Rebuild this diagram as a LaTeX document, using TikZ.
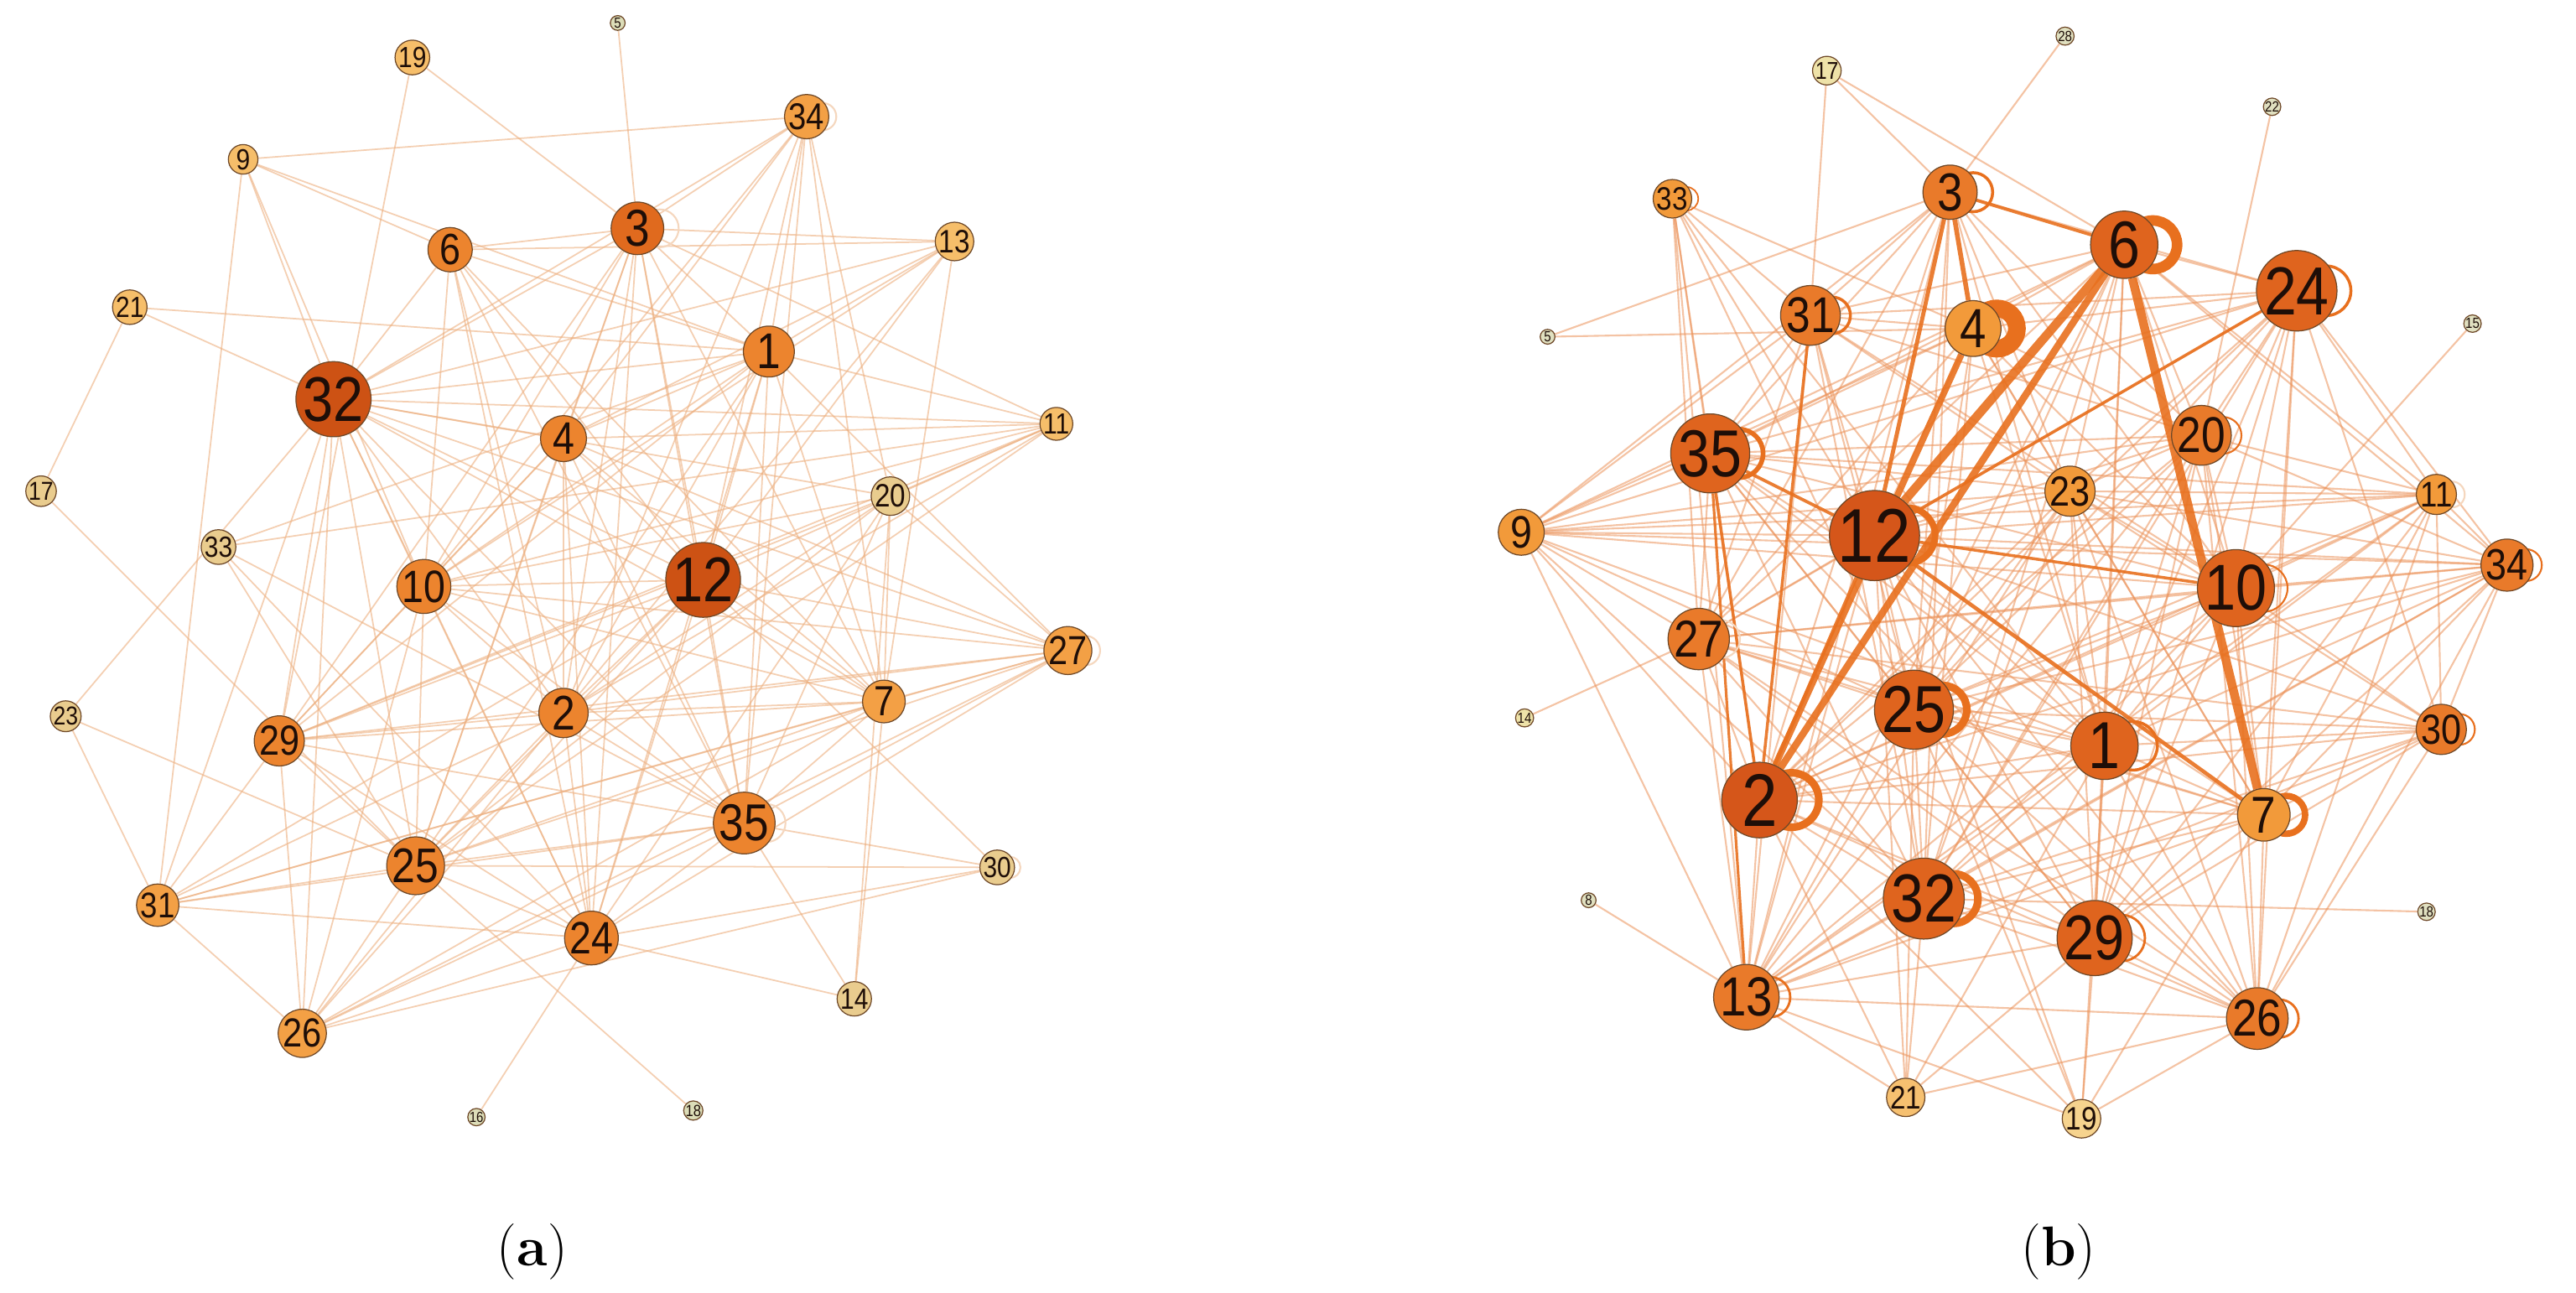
\documentclass[tikz,border=0pt]{standalone}
\usepackage{fontspec}
\newfontfamily\lab[FakeStretch=0.86]{Liberation Sans}
\pgfdeclarelayer{bg}
\pgfdeclarelayer{edges}
\pgfdeclarelayer{loops}
\pgfsetlayers{bg,edges,loops,main}
\definecolor{adark}{HTML}{CD5214}
\definecolor{amidd}{HTML}{E06A1E}
\definecolor{amid}{HTML}{EC842E}
\definecolor{alight}{HTML}{F3A045}
\definecolor{apale}{HTML}{F6BE6A}
\definecolor{atan}{HTML}{E9CC8E}
\definecolor{atiny}{HTML}{DCDDB8}
\definecolor{bvdark}{HTML}{D5561A}
\definecolor{bdark}{HTML}{DF641E}
\definecolor{bmid}{HTML}{E97A2A}
\definecolor{blight}{HTML}{F29A3A}
\definecolor{bpale}{HTML}{F6C070}
\definecolor{bpaler}{HTML}{F6D38E}
\definecolor{btan}{HTML}{EEE2A8}
\definecolor{btiny}{HTML}{E0E0C0}
\definecolor{edgea}{HTML}{EDB080}
\definecolor{edgeb}{HTML}{EC935A}
\definecolor{loopc}{HTML}{E8701E}
\def\U{0.019592}
\tikzset{
  gnode/.style={circle, draw={rgb,255:red,110;green,72;blue,40}, line width=0.35pt, inner sep=0pt, text={rgb,255:red,30;green,14;blue,8}},
  ea/.style={draw=edgea, line width=0.5pt, draw opacity=0.6},
  eb/.style={draw=edgeb, line width=0.6pt, draw opacity=0.55},
  ebt/.style={draw=loopc, draw opacity=0.9},
  loopst/.style={draw=loopc},
  faintloop/.style={draw={rgb,255:red,245;green,215;blue,190}},
  captext/.style={font=\fontsize{19}{22}\selectfont}
}
\newcommand\nd[6]{%
  \pgfmathsetmacro\fs{1.1*#4}%
  \node[gnode, fill=#5, minimum size={2*#4*\U cm}, font=\lab\fontsize{\fs}{\fs}\selectfont] (#1) at (#2,#3) {#6};}
\newcommand\lp[4][loopst]{%
  \begin{pgfonlayer}{loops}
  \draw[#1, line width=#4] ([xshift={0.85*#3*\U cm}]#2.center) circle [radius={0.72*#3*\U cm}];
  \end{pgfonlayer}}
\begin{document}
\begin{tikzpicture}[x=0.019592cm, y=-0.019592cm]
\begin{pgfonlayer}{bg}
\fill[white] (0,0) rectangle (1568,787);
\end{pgfonlayer}
\useasboundingbox (0,0) rectangle (1568,787);
% ---------------- (a) ----------------
\nd{a5}{376}{14}{4.5}{atiny}{\tiny 5}
\nd{a19}{251}{35}{9}{apale}{19}
\nd{a34}{491}{71}{11.5}{alight}{34}
\nd{a9}{148}{97}{9}{apale}{9}
\nd{a3}{388}{139}{16}{amidd}{3}
\nd{a6}{274}{152}{13.5}{amid}{6}
\nd{a13}{581}{147}{10}{apale}{13}
\nd{a21}{79}{187}{9}{apale}{21}
\nd{a1}{468}{214}{15.5}{amid}{1}
\nd{a32}{203}{243}{19.5}{adark}{32}
\nd{a4}{343}{267}{14}{amid}{4}
\nd{a11}{643}{258}{9}{apale}{11}
\nd{a17}{25}{299}{8}{atan}{17}
\nd{a20}{542}{302}{10}{atan}{20}
\nd{a33}{133}{333}{9}{atan}{33}
\nd{a10}{258}{357}{14}{amid}{10}
\nd{a12}{428}{353}{19.5}{adark}{12}
\nd{a27}{650}{396}{12.5}{alight}{27}
\nd{a7}{538}{427}{13}{alight}{7}
\nd{a2}{343}{434}{15}{amid}{2}
\nd{a23}{40}{436}{8}{atan}{23}
\nd{a29}{170}{451}{13}{amid}{29}
\nd{a35}{453}{501}{16}{amid}{35}
\nd{a30}{607}{528}{9}{atan}{30}
\nd{a25}{253}{527}{15}{amid}{25}
\nd{a31}{96}{551}{11}{alight}{31}
\nd{a24}{360}{571}{14}{amid}{24}
\nd{a14}{520}{608}{9}{atan}{14}
\nd{a26}{184}{629}{12.5}{alight}{26}
\nd{a16}{290}{680}{4.5}{atiny}{16}
\nd{a18}{422}{676}{5}{atiny}{18}
\begin{pgfonlayer}{edges}
\foreach \p/\q in {5/3,19/3,19/29,9/34,9/6,9/1,9/32,9/31,9/10,21/32,21/1,21/17,17/25,23/31,23/25,23/32,
 34/3,34/32,34/1,34/4,34/12,34/20,34/7,34/35,34/2,34/10,
 3/6,3/13,3/32,3/1,3/4,3/12,3/2,3/10,3/29,3/35,3/25,3/11,3/7,3/24,
 6/1,6/12,6/35,6/10,6/2,6/24,6/13,6/32,6/7,
 13/32,13/4,13/10,13/2,13/12,13/1,13/7,
 1/32,1/4,1/27,1/12,1/2,1/25,1/10,1/29,1/35,1/11,1/7,1/24,
 32/11,32/4,32/10,32/12,32/2,32/29,32/25,32/26,32/31,32/24,32/35,32/7,32/20,32/27,
 4/11,4/12,4/2,4/24,4/29,4/25,4/10,4/7,4/35,4/27,
 11/20,11/33,11/12,11/29,11/2,11/10,11/25,
 20/27,20/24,20/35,20/10,20/2,20/25,20/7,20/14,20/29,
 33/1,33/25,33/35,33/24,
 10/12,10/27,10/25,10/29,10/26,10/24,10/35,10/7,10/2,
 12/27,12/7,12/2,12/35,12/25,12/29,12/26,12/31,12/24,12/30,
 27/7,27/2,27/35,27/25,27/29,27/26,27/24,27/31,
 7/2,7/29,7/35,7/14,7/25,7/31,7/26,
 2/29,2/35,2/25,2/24,2/26,2/31,
 29/35,29/25,29/26,29/31,29/24,
 35/25,35/31,35/24,35/26,35/30,35/14,
 25/31,25/24,25/26,25/18,25/30,
 31/24,31/26,24/26,24/14,24/16,24/30,26/30}
 \draw[ea] (a\p) -- (a\q);
\end{pgfonlayer}
\lp[faintloop]{a34}{11.5}{0.6pt}
\lp[faintloop]{a27}{12.5}{0.6pt}
\lp[faintloop]{a35}{16}{0.6pt}
\lp[faintloop]{a30}{9}{0.6pt}
\lp[faintloop]{a3}{16}{0.6pt}
% ---------------- (b) ----------------
\nd{b17}{1112}{43}{7.5}{btan}{17}
\nd{b28}{1257}{22}{5.5}{btiny}{\tiny 28}
\nd{b22}{1383}{65}{5}{btiny}{\tiny 22}
\nd{b33}{1018}{121}{10}{blight}{33}
\nd{b3}{1187}{117}{16.5}{bmid}{3}
\nd{b6}{1293}{149}{20.5}{bdark}{6}
\nd{b24}{1398}{177}{21}{bdark}{24}
\nd{b5}{942}{205}{4.5}{btiny}{\tiny 5}
\nd{b31}{1102}{192}{15.5}{bmid}{31}
\nd{b4}{1201}{200}{17}{blight}{4}
\nd{b15}{1505}{197}{5}{btiny}{\tiny 15}
\nd{b35}{1041}{276}{20.5}{bdark}{35}
\nd{b20}{1340}{265}{15.5}{bmid}{20}
\nd{b23}{1260}{299}{13}{blight}{23}
\nd{b11}{1483}{301}{11}{blight}{11}
\nd{b9}{926}{324}{14}{blight}{9}
\nd{b12}{1141}{326}{23.5}{bvdark}{12}
\nd{b34}{1526}{344}{13.5}{bmid}{34}
\nd{b10}{1361}{358}{20}{bdark}{10}
\nd{b27}{1034}{389}{16}{bmid}{27}
\nd{b14}{928}{437}{5.5}{btan}{\tiny 14}
\nd{b25}{1165}{432}{20.5}{bdark}{25}
\nd{b1}{1281}{454}{20.5}{bdark}{1}
\nd{b30}{1486}{444}{13}{bmid}{30}
\nd{b2}{1071}{487}{23}{bvdark}{2}
\nd{b7}{1378}{496}{16}{blight}{7}
\nd{b32}{1171}{547}{21}{bdark}{32}
\nd{b29}{1275}{571}{19.5}{bdark}{29}
\nd{b8}{967}{548}{4.5}{btiny}{\tiny 8}
\nd{b18}{1477}{555}{5}{btiny}{\tiny 18}
\nd{b13}{1063}{607}{17}{bmid}{13}
\nd{b26}{1374}{620}{16}{bmid}{26}
\nd{b21}{1160}{668}{10}{bpale}{21}
\nd{b19}{1267}{681}{10}{bpaler}{19}
\begin{pgfonlayer}{edges}
\foreach \p/\q in {17/3,17/6,17/31,28/3,22/20,5/3,5/4,15/10,14/27,8/13,18/32,
 33/31,33/12,33/35,33/27,33/2,33/4,33/25,33/1,33/13,
 3/31,3/35,3/25,3/23,3/20,3/10,3/1,3/24,3/27,3/13,3/32,3/2,3/9,
 6/24,6/31,6/35,6/23,6/20,6/10,6/25,6/1,6/11,6/34,6/27,6/13,6/32,6/29,6/4,6/9,
 24/4,24/31,24/35,24/20,24/23,24/10,24/11,24/34,24/30,24/1,24/7,24/25,24/2,24/26,24/29,24/32,24/9,24/27,
 31/35,31/12,31/27,31/13,31/25,31/9,31/23,31/20,31/10,31/4,31/32,
 4/35,4/9,4/23,4/20,4/10,4/1,4/25,4/32,4/7,4/27,4/12,
 35/9,35/27,35/25,35/32,35/23,35/20,35/10,35/11,35/1,35/7,35/29,35/26,
 20/12,20/9,20/23,20/10,20/34,20/11,20/1,20/7,20/2,20/25,20/32,20/29,20/13,20/26,
 23/12,23/9,23/11,23/34,23/10,23/1,23/2,23/25,23/32,23/29,23/7,23/26,23/13,23/30,
 9/12,9/2,9/13,9/27,9/25,9/10,9/34,9/11,9/1,9/32,
 11/12,11/10,11/34,11/30,11/1,11/7,11/2,11/25,11/26,11/29,11/13,
 12/34,12/30,12/1,12/25,12/32,12/29,12/13,12/26,12/27,12/21,12/19,
 10/34,10/30,10/1,10/7,10/2,10/25,10/32,10/29,10/26,10/13,10/27,
 34/30,34/1,34/7,34/2,34/25,34/26,34/29,34/32,34/13,34/27,
 27/2,27/13,27/25,27/1,27/30,27/7,27/32,27/29,27/26,
 25/1,25/2,25/32,25/29,25/13,25/7,25/26,25/30,25/21,25/19,
 1/2,1/7,1/30,1/32,1/29,1/13,1/26,1/19,1/21,
 30/2,30/7,30/32,30/29,30/13,30/26,
 2/7,2/32,2/29,2/13,2/26,2/21,2/19,
 7/32,7/29,7/13,7/26,7/19,
 32/29,32/13,32/26,32/21,
 29/13,29/26,29/19,29/21,
 13/26,13/21,13/19,26/19,26/21}
 \draw[eb] (b\p) -- (b\q);
\foreach \p/\q/\w in {12/6/3pt,2/6/2.4pt,2/4/2.2pt,6/7/3pt,3/4/1.6pt,3/12/1.4pt,12/7/1.3pt,
 24/12/1pt,35/12/1.1pt,12/10/1pt,31/2/1pt,35/2/1pt,35/13/0.9pt,3/6/1.1pt,2/12/1.2pt}
 \draw[ebt, line width=\w] (b\p) -- (b\q);
\end{pgfonlayer}
\lp{b3}{16.5}{1pt}
\lp{b6}{20.5}{3.6pt}
\lp{b24}{21}{1pt}
\lp{b31}{15.5}{1pt}
\lp{b4}{17}{6pt}
\lp{b35}{20.5}{1.6pt}
\lp{b12}{23.5}{2.2pt}
\lp{b20}{15.5}{0.6pt}
\lp{b10}{20}{0.6pt}
\lp{b34}{13.5}{0.6pt}
\lp{b25}{20.5}{2.6pt}
\lp{b1}{20.5}{1pt}
\lp{b2}{23}{2.6pt}
\lp{b7}{16}{2.2pt}
\lp{b32}{21}{2.6pt}
\lp{b29}{19.5}{0.8pt}
\lp{b13}{17}{0.8pt}
\lp{b26}{16}{0.8pt}
\lp{b30}{13}{0.6pt}
\lp{b33}{10}{0.5pt}
\lp[faintloop]{b27}{16}{0.6pt}
\lp[faintloop]{b11}{11}{0.6pt}
% captions
\node[captext] (capa) at (324,762) {(\textbf{a})};
\node[captext] (capb) at (1253,762) {(\textbf{b})};
\end{tikzpicture}
\end{document}
